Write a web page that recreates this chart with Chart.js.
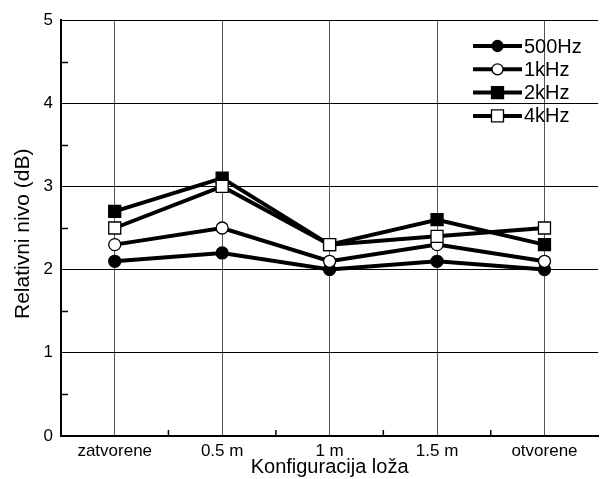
<!DOCTYPE html>
<html>
<head>
<meta charset="utf-8">
<script src="https://cdn.jsdelivr.net/npm/chart.js@4"></script>
<style>
  html, body { margin: 0; padding: 0; background: #fff; overflow: hidden; }
  #wrap { width: 608px; height: 479px; position: relative; }
</style>
</head>
<body>
<div id="wrap"><canvas id="c"></canvas></div>
<script>
const categories = ['zatvorene', '0.5 m', '1 m', '1.5 m', 'otvorene'];
const seriesNames = ['500Hz', '1kHz', '2kHz', '4kHz'];
const s500Hz = [2.1, 2.2, 2.0, 2.1, 2.0];
const s1kHz  = [2.3, 2.5, 2.1, 2.3, 2.1];
const s2kHz  = [2.7, 3.1, 2.3, 2.6, 2.3];
const s4kHz  = [2.5, 3.0, 2.3, 2.4, 2.5];
const yTicks = [0, 1, 2, 3, 4, 5];
const xTitle = 'Konfiguracija loža';
const yTitle = 'Relativni nivo (dB)';

const FONT = '"Liberation Sans", Arial, sans-serif';

const styles = [
  { pointStyle: 'circle', radius: 6, fill: '#000' },
  { pointStyle: 'circle', radius: 6, fill: '#fff' },
  { pointStyle: 'rect', radius: 8.5, fill: '#000' },
  { pointStyle: 'rect', radius: 8.5, fill: '#fff' }
];
const values = [s500Hz, s1kHz, s2kHz, s4kHz];

const datasets = seriesNames.map((name, i) => ({
  label: name,
  data: values[i],
  borderColor: '#000',
  borderWidth: 4,
  pointStyle: styles[i].pointStyle,
  pointRadius: styles[i].radius,
  pointBackgroundColor: styles[i].fill,
  pointBorderColor: '#000',
  pointBorderWidth: 1.3,
  fill: false,
  tension: 0,
  order: 3 - i
}));

const extras = {
  id: 'extras',
  afterDraw(chart) {
    const ctx = chart.ctx;
    const x = chart.scales.x, y = chart.scales.y;
    const area = chart.chartArea;
    ctx.save();
    ctx.strokeStyle = '#000';
    ctx.lineWidth = 1.5;
    // y minor ticks (inside)
    for (let v = 0.5; v < 5; v += 1) {
      const py = Math.round(y.getPixelForValue(v)) + 0.5;
      ctx.beginPath();
      ctx.moveTo(area.left, py);
      ctx.lineTo(area.left + 7, py);
      ctx.stroke();
    }
    // x minor ticks between categories
    for (let i = 0; i < categories.length - 1; i++) {
      const px = (x.getPixelForValue(i) + x.getPixelForValue(i + 1)) / 2;
      ctx.beginPath();
      ctx.moveTo(px, area.bottom);
      ctx.lineTo(px, area.bottom - 6);
      ctx.stroke();
    }
    // y axis title
    ctx.save();
    ctx.translate(23, y.getPixelForValue(2.43));
    ctx.rotate(-Math.PI / 2);
    ctx.font = '21px ' + FONT;
    ctx.fillStyle = '#000';
    ctx.textAlign = 'center';
    ctx.textBaseline = 'middle';
    ctx.fillText(yTitle, 0, 0);
    ctx.restore();
    // legend
    const lx0 = 473, lx1 = 522, mx = 497.5, tx = 524;
    const ly0 = 46, dy = 23.3;
    ctx.font = '20px ' + FONT;
    ctx.textBaseline = 'middle';
    ctx.textAlign = 'left';
    chart.data.datasets.forEach((ds, i) => {
      const ly = ly0 + i * dy;
      ctx.lineWidth = 4;
      ctx.strokeStyle = '#000';
      ctx.beginPath();
      ctx.moveTo(lx0, ly);
      ctx.lineTo(lx1, ly);
      ctx.stroke();
      ctx.lineWidth = 1.3;
      ctx.fillStyle = ds.pointBackgroundColor;
      const r = ds.pointStyle === 'circle' ? 5.5 : 6;
      ctx.beginPath();
      if (ds.pointStyle === 'circle') {
        ctx.arc(mx, ly, r, 0, Math.PI * 2);
      } else {
        ctx.rect(mx - r, ly - r, 2 * r, 2 * r);
      }
      ctx.fill();
      ctx.stroke();
      ctx.fillStyle = '#000';
      ctx.fillText(ds.label, tx, ly + 1);
    });
    ctx.restore();
  }
};

new Chart(document.getElementById('c'), {
  type: 'line',
  data: { labels: categories, datasets },
  options: {
    responsive: true,
    maintainAspectRatio: false,
    animation: false,
    events: [],
    layout: { padding: { top: 20, right: 1, left: 0, bottom: 0 } },
    plugins: { legend: { display: false }, tooltip: { enabled: false } },
    scales: {
      x: {
        type: 'category',
        offset: true,
        grid: { offset: false, color: '#555', lineWidth: 1, drawTicks: false },
        border: { color: '#000', width: 2 },
        ticks: { color: '#000', font: { family: FONT, size: 17 }, padding: 5, maxRotation: 0, autoSkip: false },
        title: { display: true, text: xTitle, color: '#000', font: { family: FONT, size: 20 }, padding: { top: 0, bottom: 0 } },
        afterFit(s) { s.height = 43; }
      },
      y: {
        min: 0, max: 5,
        afterBuildTicks(s) { s.ticks = yTicks.map(v => ({ value: v })); },
        grid: { color: '#000', lineWidth: 1, drawTicks: false },
        border: { color: '#000', width: 2 },
        ticks: { color: '#000', font: { family: FONT, size: 17 }, padding: 8 },
        title: { display: false },
        afterFit(s) { s.width = 61; }
      }
    }
  },
  plugins: [extras]
});
</script>
</body>
</html>
